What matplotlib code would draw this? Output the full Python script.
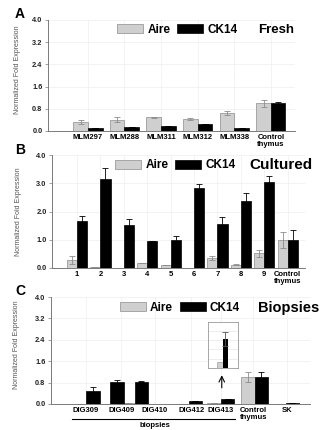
import numpy as np
import matplotlib
matplotlib.use('Agg')
import matplotlib.pyplot as plt
from matplotlib.transforms import blended_transform_factory

plt.rcParams['font.family'] = ['Liberation Sans', 'DejaVu Sans']

# ---- data ----
# panel A (fresh)
labels_a = ['MLM297', 'MLM288', 'MLM311', 'MLM312', 'MLM338', 'Control\nthymus']
aire_a = [0.31, 0.40, 0.49, 0.42, 0.65, 1.00]
aire_a_err = [0.07, 0.09, 0.03, 0.04, 0.06, 0.12]
ck14_a = [0.12, 0.13, 0.19, 0.25, 0.12, 1.00]
ck14_a_err = [0.0, 0.0, 0.0, 0.0, 0.0, 0.06]

# panel B (cultured)
labels_b = ['1', '2', '3', '4', '5', '6', '7', '8', '9', 'Control\nthymus']
aire_b = [0.29, 0.02, 0.01, 0.18, 0.10, 0.01, 0.37, 0.12, 0.52, 1.00]
aire_b_err = [0.15, 0.0, 0.0, 0.01, 0.01, 0.0, 0.07, 0.02, 0.12, 0.28]
ck14_b = [1.66, 3.16, 1.53, 0.94, 0.99, 2.84, 1.57, 2.38, 3.05, 1.00]
ck14_b_err = [0.18, 0.39, 0.20, 0.02, 0.15, 0.14, 0.22, 0.27, 0.22, 0.33]

# panel C (biopsies)
labels_c = ['DIG309', 'DIG409', 'DIG410', 'DIG412', 'DIG413', 'Control\nthymus', 'SK']
aire_c = [0.01, 0.01, 0.02, 0.01, 0.02, 1.00, 0.01]
aire_c_err = [0.0, 0.0, 0.0, 0.0, 0.0, 0.19, 0.0]
ck14_c = [0.50, 0.82, 0.84, 0.11, 0.17, 1.00, 0.02]
ck14_c_err = [0.12, 0.07, 0.02, 0.0, 0.0, 0.21, 0.0]
# magnified DIG413 inset
inset_aire = [0.04]
inset_ck14 = [0.19]
inset_ck14_err = [0.045]

AIRE_C = '#cfcfcf'
AIRE_E = '#8c8c8c'
SPINE = '#7a7a7a'


def style_axis(ax, yticks, ylabels, xlim):
    ax.set_ylim(0, 4.0)
    ax.set_xlim(*xlim)
    ax.set_yticks(yticks)
    ax.set_yticklabels(ylabels, fontsize=5.3, fontweight='bold', color='#222222')
    for s in ['top', 'right']:
        ax.spines[s].set_visible(False)
    for s in ['left', 'bottom']:
        ax.spines[s].set_color(SPINE)
        ax.spines[s].set_linewidth(0.7)
    ax.tick_params(axis='y', length=2, width=0.5, color=SPINE, pad=2)
    ax.tick_params(axis='x', length=0, pad=2.5)
    ax.grid(True, color='#efefef', lw=0.5)
    ax.set_axisbelow(True)
    ax.set_ylabel('Normalized Fold Expression', fontsize=5, color='#555555')


def draw_bars(ax, pos, aire, aire_err, ck14, ck14_err, width):
    pos = np.array(pos)
    b1 = ax.bar(pos - width / 2, aire, width, color=AIRE_C, edgecolor=AIRE_E, lw=0.5,
                yerr=aire_err, error_kw=dict(ecolor=AIRE_E, elinewidth=0.6, capsize=2.5, capthick=0.6),
                label='Aire')
    b2 = ax.bar(pos + width / 2, ck14, width, color='black', edgecolor='black', lw=0.5,
                yerr=ck14_err, error_kw=dict(ecolor='black', elinewidth=0.6, capsize=2.5, capthick=0.6),
                label='CK14')
    return b1, b2


def add_legend(ax, x, y, title, title_x, title_size):
    ax.legend(loc='center left', bbox_to_anchor=(x, y), ncol=2, frameon=False,
              prop=dict(size=8.5, weight='bold'), handlelength=2.2, handleheight=0.8,
              handletextpad=0.35, columnspacing=0.6, borderpad=0, borderaxespad=0)
    ax.text(title_x, y, title, transform=ax.transAxes, fontsize=title_size,
            fontweight='bold', ha='left', va='center')


fig = plt.figure(figsize=(3.2, 4.3), dpi=100)
W, H = 320.0, 430.0


def px_axes(left, right, top, bottom):
    return fig.add_axes([left / W, 1 - bottom / H, (right - left) / W, (bottom - top) / H])


# ---- panel A ----
ax_a = px_axes(48, 295, 20, 131)
pos_a = np.arange(len(labels_a))
draw_bars(ax_a, pos_a, aire_a, aire_a_err, ck14_a, ck14_a_err, 0.4)
style_axis(ax_a, [0, 0.8, 1.6, 2.4, 3.2, 4.0], ['0.0', '0.8', '1.6', '2.4', '3.2', '4.0'], (-1.09, 5.66))
ax_a.set_xticks(pos_a)
ax_a.set_xticklabels(labels_a, fontsize=5.5, fontweight='bold', linespacing=1.0)
ax_a.yaxis.set_label_coords(-0.11, 0.55)
add_legend(ax_a, 0.28, 0.91, 'Fresh', 0.85, 9.5)

# ---- panel B ----
ax_b = px_axes(52, 305, 155, 268)
pos_b = np.arange(len(labels_b))
draw_bars(ax_b, pos_b, aire_b, aire_b_err, ck14_b, ck14_b_err, 0.43)
style_axis(ax_b, [0, 1, 2, 3, 4], ['0.0', '1.0', '2.0', '3.0', '4.0'], (-1.07, 9.74))
ax_b.set_xticks(pos_b)
ax_b.set_xticklabels(labels_b, fontsize=5.5, fontweight='bold', linespacing=1.0)
ax_b.yaxis.set_label_coords(-0.12, 0.5)
add_legend(ax_b, 0.25, 0.91, 'Cultured', 0.78, 11)

# ---- panel C ----
ax_c = px_axes(51, 310, 297, 404)
pos_c = [1.3, 2.2, 3.1, 5.1, 6.3, 7.55, 8.7]
label_pos_c = [1.3, 2.6, 3.85, 5.2, 6.3, 7.5, 8.75]
draw_bars(ax_c, pos_c, aire_c, aire_c_err, ck14_c, ck14_c_err, 0.5)
style_axis(ax_c, [0, 0.8, 1.6, 2.4, 3.2, 4.0], ['0.0', '0.8', '1.6', '2.4', '3.2', '4.0'], (0, 9.6))
ax_c.set_xticks(label_pos_c)
ax_c.set_xticklabels(labels_c, fontsize=5.5, fontweight='bold', linespacing=1.0)
ax_c.yaxis.set_label_coords(-0.12, 0.55)
add_legend(ax_c, 0.265, 0.90, 'Biopsies', 0.80, 10.5)

# "biopsies" bracket under the DIG samples
tr = blended_transform_factory(ax_c.transData, ax_c.transAxes)
ax_c.plot([0.78, 6.81], [-0.14, -0.14], color='black', lw=0.8, transform=tr, clip_on=False)
ax_c.text(3.85, -0.2, 'biopsies', transform=tr, fontsize=5.5, fontweight='bold',
          ha='center', va='center')

# arrow pointing at the magnified DIG413 inset
ax_c.annotate('', xy=(6.33, 1.18), xytext=(6.33, 0.5),
              arrowprops=dict(arrowstyle='->', color='black', lw=0.8))

# inset
ax_in = ax_c.inset_axes([5.81, 1.35, 1.12, 1.72], transform=ax_c.transData)
ax_in.bar([-0.2], inset_aire, 0.37, color=AIRE_C, edgecolor=AIRE_E, lw=0.4)
ax_in.bar([0.17], inset_ck14, 0.37, color='black', yerr=inset_ck14_err,
          error_kw=dict(ecolor='#555555', elinewidth=0.6, capsize=2, capthick=0.6))
ax_in.set_xlim(-1, 1)
ax_in.set_ylim(0, 0.3)
ax_in.set_xticks([])
ax_in.set_yticks([0.06, 0.12, 0.18, 0.24])
ax_in.tick_params(axis='y', length=0, labelleft=False)
ax_in.grid(True, axis='y', color='#e6e6e6', lw=0.5)
ax_in.set_axisbelow(True)
for s in ax_in.spines.values():
    s.set_color('#999999')
    s.set_linewidth(0.6)

# panel letters
fig.text(20 / W, 1 - 14 / H, 'A', fontsize=10, fontweight='bold', ha='center', va='center')
fig.text(20 / W, 1 - 150 / H, 'B', fontsize=10, fontweight='bold', ha='center', va='center')
fig.text(20 / W, 1 - 291 / H, 'C', fontsize=10, fontweight='bold', ha='center', va='center')

fig.savefig('out.png', dpi=100)
